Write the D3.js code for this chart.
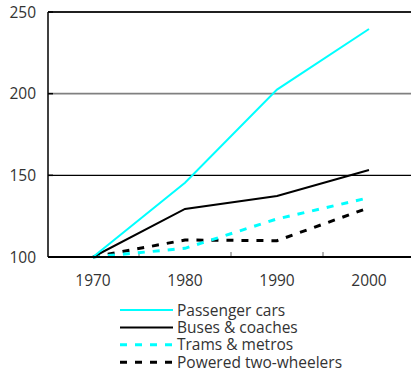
<!DOCTYPE html>
<html>
<head>
<meta charset="utf-8">
<script src="https://cdn.jsdelivr.net/npm/d3@7"></script>
<style>
body { margin: 0; background: #fff; }
text { font-family: "Open Sans", "DejaVu Sans", sans-serif; fill: #333; }
</style>
</head>
<body>
<div id="chart"></div>
<script>
// data
var years = ["1970", "1980", "1990", "2000"];
var y_ticks = [100, 150, 200, 250];
var cars = [100, 145.5, 202.5, 239.6];
var buses = [100, 129.4, 137.4, 153.3];
var trams = [100, 105.3, 123.3, 136.3];
var two_wheelers = [100, 110.4, 110, 130.2];
var series_names = ["Passenger cars", "Buses & coaches", "Trams & metros", "Powered two-wheelers"];

var width = 411, height = 374;
var left = 48, top_y = 12, right = 415, bottom = 257;
var font_size = "15.5px";

var svg = d3.select("#chart").append("svg")
    .attr("width", width)
    .attr("height", height);

var x = d3.scaleBand().domain(years).range([left - 1, right]);
var y = d3.scaleLinear().domain([100, 250]).range([bottom, top_y]);

// gridlines
svg.selectAll(".grid").data(y_ticks.filter(function (d) { return d > 100; }))
    .enter().append("line")
    .attr("x1", left).attr("x2", width)
    .attr("y1", function (d) { return y(d); })
    .attr("y2", function (d) { return y(d); })
    .attr("stroke", function (d) { return d == 200 ? "#808080" : "#000"; })
    .attr("stroke-width", function (d) { return d == 200 ? 1.6 : 1.2; });

// small black ticks on the left axis
svg.selectAll(".ytick").data(y_ticks)
    .enter().append("line")
    .attr("x1", left).attr("x2", left + 5)
    .attr("y1", function (d) { return y(d); })
    .attr("y2", function (d) { return y(d); })
    .attr("stroke", "#000").attr("stroke-width", 1.5);

// x ticks between categories
svg.selectAll(".xtick").data(years.slice(1))
    .enter().append("line")
    .attr("x1", function (d) { return x(d); })
    .attr("x2", function (d) { return x(d); })
    .attr("y1", bottom).attr("y2", bottom - 5)
    .attr("stroke", "#666").attr("stroke-width", 1);

// y labels
svg.selectAll(".ylab").data(y_ticks)
    .enter().append("text")
    .attr("x", 36)
    .attr("y", function (d) { return y(d) + 5.5; })
    .attr("text-anchor", "end")
    .style("font-size", font_size)
    .text(function (d) { return d; });

// x labels
svg.selectAll(".xlab").data(years)
    .enter().append("text")
    .attr("x", function (d) { return x(d) + x.bandwidth() / 2; })
    .attr("y", 286)
    .attr("text-anchor", "middle")
    .style("font-size", font_size)
    .text(function (d) { return d; });

var series = [
    { name: series_names[0], values: cars, color: "#00ffff", dash: null, w: 2 },
    { name: series_names[1], values: buses, color: "#000", dash: null, w: 2 },
    { name: series_names[2], values: trams, color: "#00ffff", dash: "7,8", w: 3 },
    { name: series_names[3], values: two_wheelers, color: "#000", dash: "7,8", w: 3 }
];

var line = d3.line()
    .x(function (d, i) { return x(years[i]) + x.bandwidth() / 2; })
    .y(function (d) { return y(d); });

// draw dashed first, solid on top
[3, 2, 1, 0].forEach(function (k) {
    var s = series[k];
    svg.append("path")
        .datum(s.values)
        .attr("d", line)
        .attr("fill", "none")
        .attr("stroke", s.color)
        .attr("stroke-width", s.w)
        .attr("stroke-dasharray", s.dash);
});

// axes lines
svg.append("line").attr("x1", left).attr("x2", left)
    .attr("y1", top_y).attr("y2", bottom)
    .attr("stroke", "#000").attr("stroke-width", 1.5);
svg.append("line").attr("x1", left).attr("x2", width)
    .attr("y1", top_y).attr("y2", top_y)
    .attr("stroke", "#000").attr("stroke-width", 1.5);
svg.append("line").attr("x1", left).attr("x2", width)
    .attr("y1", bottom).attr("y2", bottom)
    .attr("stroke", "#000").attr("stroke-width", 2);

// legend
var legend = svg.selectAll(".legend").data(series)
    .enter().append("g")
    .attr("transform", function (d, i) { return "translate(120," + (310 + i * 17.4) + ")"; });
legend.append("line")
    .attr("x1", 0).attr("x2", 53)
    .attr("y1", 0).attr("y2", 0)
    .attr("stroke", function (d) { return d.color; })
    .attr("stroke-width", function (d) { return d.w; })
    .attr("stroke-dasharray", function (d) { return d.dash; });
legend.append("text")
    .attr("x", 57)
    .attr("y", 5.5)
    .style("font-size", font_size)
    .text(function (d) { return d.name; });
</script>
</body>
</html>
